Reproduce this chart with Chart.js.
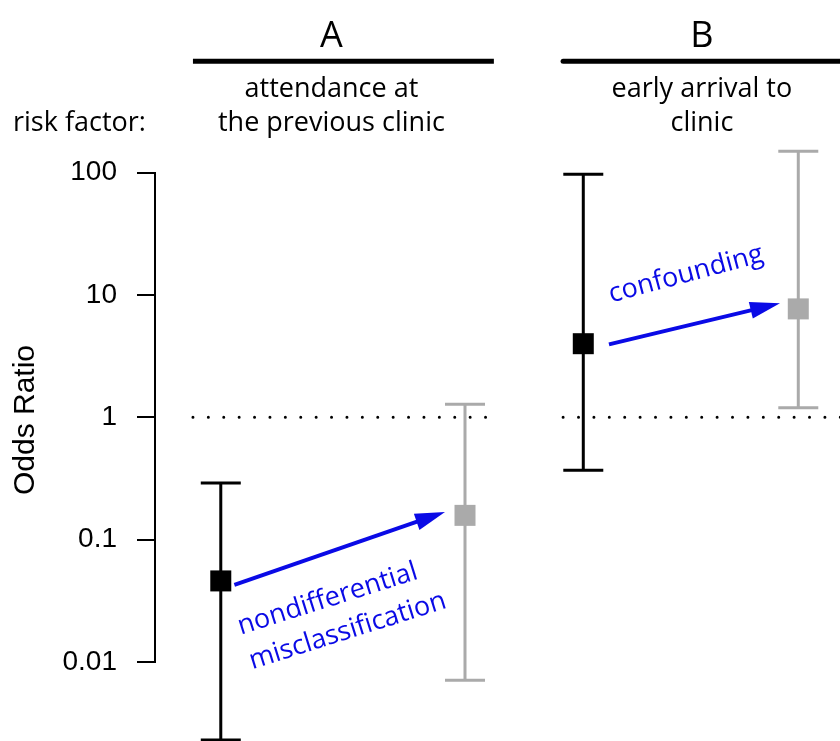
<!DOCTYPE html>
<html>
<head>
<meta charset="utf-8">
<script src="https://cdn.jsdelivr.net/npm/chart.js@4.4.1/dist/chart.umd.min.js"></script>
<style>
  html, body { margin: 0; padding: 0; background: #fff; }
  #wrap { width: 840px; height: 741px; }
</style>
</head>
<body>
<div id="wrap"><canvas id="chart" width="840" height="741"></canvas></div>
<script>
// values
const panels = ['A', 'B'];
const riskFactors = [['attendance at', 'the previous clinic'], ['early arrival to', 'clinic']];
const crudeOR = [0.046, 4.0];
const crudeLow = [0.0023, 0.37];
const crudeHigh = [0.29, 97];
const adjustedOR = [0.158, 7.7];
const adjustedLow = [0.0071, 1.2];
const adjustedHigh = [1.28, 150];
const biasLabels = [['nondifferential', 'misclassification'], ['confounding']];
const yTicks = [0.01, 0.1, 1, 10, 100];
const yTickLabels = ['0.01', '0.1', '1', '10', '100'];
const nullOR = 1;

// layout (x in panel units, A centred on 1, B on 2)
const groupCenter = [1, 2];
const halfGap = [0.351, 0.309];
const panelSpan = [[0.569, 1.434], [1.633, 2.6]];
const headerCenter = [0.967, 2.032];
const arrowStart = [[13.6, 4], [25.7, 0.7]];     // px from the crude square
const arrowEnd = [[-20, -3.3], [-18.3, -5.6]];   // px from the adjusted square
const labelOffset = [[[-9.7, 58.1], [10.3, 89.9]], [[-6.5, -42]]]; // px from arrow middle
const labelAngle = [-17.5, -15];

const BLUE = '#0a0ae6';
const GREY = '#aaaaaa';
const HUMANIST = '"Open Sans", "Noto Sans", sans-serif';
const HELV = '"Liberation Sans", Arial, sans-serif';

Chart.defaults.color = '#000';

const crudePts = crudeOR.map((v, i) => ({ x: groupCenter[i] - halfGap[i], y: v }));
const adjustedPts = adjustedOR.map((v, i) => ({ x: groupCenter[i] + halfGap[i], y: v }));

function drawArrow(ctx, x0, y0, x1, y1) {
  const a = Math.atan2(y1 - y0, x1 - x0);
  const headLen = 30, headHalf = 8.5;
  const bx = x1 - headLen * Math.cos(a), by = y1 - headLen * Math.sin(a);
  ctx.lineWidth = 4;
  ctx.lineCap = 'butt';
  ctx.beginPath();
  ctx.moveTo(x0, y0);
  ctx.lineTo(bx + 2 * Math.cos(a), by + 2 * Math.sin(a));
  ctx.stroke();
  ctx.beginPath();
  ctx.moveTo(x1, y1);
  ctx.lineTo(bx + headHalf * Math.sin(a), by - headHalf * Math.cos(a));
  ctx.lineTo(bx - headHalf * Math.sin(a), by + headHalf * Math.cos(a));
  ctx.closePath();
  ctx.fill();
}

const decor = {
  id: 'decor',
  beforeDatasetsDraw(chart) {
    const { ctx, scales: { x, y }, chartArea } = chart;
    ctx.save();
    ctx.fillStyle = '#000';
    ctx.strokeStyle = '#000';
    ctx.textBaseline = 'alphabetic';

    panels.forEach((p, i) => {
      const x0 = x.getPixelForValue(panelSpan[i][0]);
      const x1 = x.getPixelForValue(panelSpan[i][1]);
      const xc = x.getPixelForValue(headerCenter[i]);
      ctx.textAlign = 'center';
      ctx.font = '36px ' + HUMANIST;
      ctx.fillText(p, xc, 47);
      ctx.lineWidth = 5;
      ctx.beginPath();
      ctx.moveTo(x0, 61.3);
      ctx.lineTo(x1, 61.3);
      ctx.stroke();
      ctx.font = '27px ' + HUMANIST;
      riskFactors[i].forEach((line, k) => ctx.fillText(line, xc, 97 + k * 33.5));

      // dotted line at OR = 1
      const yNull = y.getPixelForValue(nullOR);
      ctx.lineWidth = 3;
      ctx.lineCap = 'round';
      ctx.setLineDash([0, 15.4]);
      ctx.beginPath();
      ctx.moveTo(x0, yNull);
      ctx.lineTo(x1, yNull);
      ctx.stroke();
      ctx.setLineDash([]);
    });

    ctx.textAlign = 'left';
    ctx.font = '27px ' + HUMANIST;
    ctx.fillText('risk factor:', 13, 131);

    // y axis line, only over the labelled range
    ctx.lineCap = 'butt';
    ctx.lineWidth = 2;
    ctx.beginPath();
    ctx.moveTo(chartArea.left - 1, y.getPixelForValue(yTicks[0]));
    ctx.lineTo(chartArea.left - 1, y.getPixelForValue(yTicks[yTicks.length - 1]));
    ctx.stroke();

    // confidence intervals
    const bars = [
      { pts: crudePts, lo: crudeLow, hi: crudeHigh, color: '#000' },
      { pts: adjustedPts, lo: adjustedLow, hi: adjustedHigh, color: GREY }
    ];
    bars.forEach(b => {
      ctx.strokeStyle = b.color;
      ctx.lineWidth = 3;
      b.pts.forEach((pt, i) => {
        const px = x.getPixelForValue(pt.x);
        const yl = y.getPixelForValue(b.lo[i]);
        const yh = y.getPixelForValue(b.hi[i]);
        ctx.beginPath();
        ctx.moveTo(px, yl); ctx.lineTo(px, yh);
        ctx.moveTo(px - 20, yl); ctx.lineTo(px + 20, yl);
        ctx.moveTo(px - 20, yh); ctx.lineTo(px + 20, yh);
        ctx.stroke();
      });
    });
    ctx.restore();
  },
  afterDatasetsDraw(chart) {
    const { ctx, scales: { x, y } } = chart;
    ctx.save();
    ctx.strokeStyle = BLUE;
    ctx.fillStyle = BLUE;
    panels.forEach((p, i) => {
      const sx = x.getPixelForValue(crudePts[i].x) + arrowStart[i][0];
      const sy = y.getPixelForValue(crudePts[i].y) + arrowStart[i][1];
      const ex = x.getPixelForValue(adjustedPts[i].x) + arrowEnd[i][0];
      const ey = y.getPixelForValue(adjustedPts[i].y) + arrowEnd[i][1];
      drawArrow(ctx, sx, sy, ex, ey);

      const mx = (sx + ex) / 2, my = (sy + ey) / 2;
      ctx.font = '27px ' + HUMANIST;
      ctx.textAlign = 'center';
      ctx.textBaseline = 'alphabetic';
      biasLabels[i].forEach((line, k) => {
        ctx.save();
        ctx.translate(mx + labelOffset[i][k][0], my + labelOffset[i][k][1]);
        ctx.rotate(labelAngle[i] * Math.PI / 180);
        ctx.fillText(line, 0, 0);
        ctx.restore();
      });
    });
    ctx.restore();
  }
};

new Chart(document.getElementById('chart'), {
  type: 'scatter',
  data: {
    datasets: [
      {
        label: 'crude',
        data: crudePts,
        pointStyle: 'rect',
        pointRadius: 14.85,
        backgroundColor: '#000',
        borderWidth: 0
      },
      {
        label: 'adjusted',
        data: adjustedPts,
        pointStyle: 'rect',
        pointRadius: 14.85,
        backgroundColor: GREY,
        borderWidth: 0
      }
    ]
  },
  options: {
    responsive: false,
    animation: false,
    events: [],
    layout: { autoPadding: false, padding: { top: 99, left: 0, right: 0, bottom: 0 } },
    plugins: { legend: { display: false }, tooltip: { enabled: false } },
    scales: {
      x: {
        type: 'linear',
        display: false,
        min: 0.4628,
        max: 2.4289
      },
      y: {
        type: 'logarithmic',
        position: 'left',
        min: 0.00226,
        max: 400.4,
        border: { display: false },
        grid: {
          drawOnChartArea: false,
          drawTicks: true,
          tickLength: 19,
          color: '#000',
          lineWidth: 2
        },
        ticks: {
          autoSkip: false,
          padding: 20,
          color: '#000',
          font: { family: HELV, size: 28 },
          callback: (v) => {
            const k = yTicks.indexOf(v);
            return k >= 0 ? yTickLabels[k] : '';
          }
        },
        title: {
          display: true,
          text: 'Odds Ratio',
          color: '#000',
          font: { family: HELV, size: 30 },
          padding: { top: 8, bottom: 0 }
        },
        afterBuildTicks: (scale) => {
          scale.ticks = yTicks.map(v => ({ value: v }));
        },
        afterFit: (scale) => {
          scale.width = 156;
          scale.paddingTop = 0;
          scale.paddingBottom = 0;
        }
      }
    }
  },
  plugins: [decor]
});
</script>
</body>
</html>
